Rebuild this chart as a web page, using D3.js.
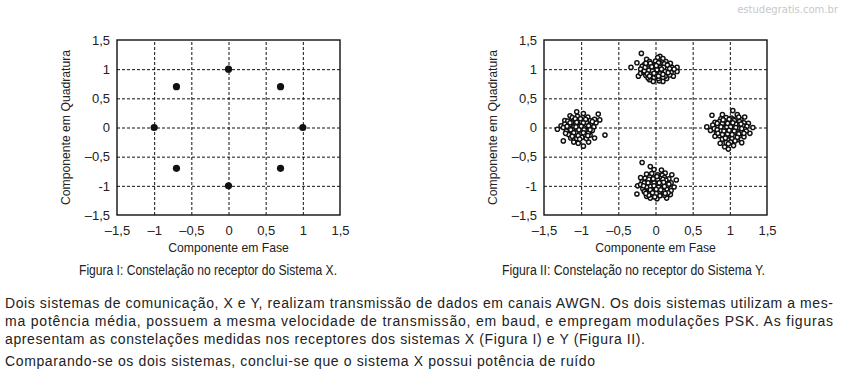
<!DOCTYPE html>
<html>
<head>
<meta charset="utf-8">
<script src="https://cdn.jsdelivr.net/npm/d3@7"></script>
<style>
  html, body { margin: 0; padding: 0; background: #fff; }
  svg { display: block; }
  .tick-label { font-family: "Liberation Sans", Arial, sans-serif; font-size: 13px; fill: #222; }
  .axis-title { font-family: "Liberation Sans", Arial, sans-serif; font-size: 12.2px; fill: #222; }
  .narrow { font-family: "Liberation Sans Narrow", "Arial Narrow", "Liberation Sans", Arial, sans-serif; fill: #222; }
  .body-text { font-family: "Liberation Sans", Arial, sans-serif; fill: #222; }
</style>
</head>
<body>
<svg id="chart" width="842" height="375"></svg>
<script>
// tick values and their printed labels (both axes share them)
const tickValues = [-1.5, -1, -0.5, 0, 0.5, 1, 1.5];
const xTickLabels = ["\u20131,5", "\u20131", "\u20130,5", "0", "0,5", "1", "1,5"];
const yTickLabels = ["\u20131,5", "-1", "\u20130,5", "0", "0,5", "1", "1,5"];
const gridValues = [-1, -0.5, 0, 0.5, 1];

// Figura I: sistema X (8-PSK, sem ruído aparente)
const systemX = [
  [0, 1], [0.7, 0.7], [1, 0], [0.7, -0.7],
  [0, -1], [-0.7, -0.7], [-1, 0], [-0.7, 0.7]
];

// Figura II: sistema Y (QPSK com ruído)
const systemYTop = [
  [-0.19, 1.27], [-0.33, 1.03], [-0.25, 1.11], [-0.23, 0.88], [0.29, 1.03], [0.29, 0.96],
  [0.10, 0.79], [-0.03, 0.79], [0.06, 1.22], [-0.12, 1.17], [0.03, 1.20], [0.10, 1.18],
  [0.20, 1.10], [0.24, 0.88], [-0.20, 0.93], [-0.15, 1.08], [0.15, 0.84], [-0.08, 0.82], [0.05, 0.80],
  [-0.08, 1.13], [0.00, 1.14], [0.08, 1.12], [0.14, 1.13],
  [-0.18, 1.05], [-0.10, 1.06], [-0.04, 1.07], [0.02, 1.08], [0.09, 1.06], [0.16, 1.04], [0.22, 1.03],
  [-0.20, 1.00], [-0.13, 0.99], [-0.06, 1.01], [0.00, 1.00], [0.05, 1.02], [0.11, 0.99], [0.18, 0.98], [0.25, 1.00],
  [-0.16, 0.95], [-0.09, 0.94], [-0.02, 0.96], [0.04, 0.94], [0.09, 0.95], [0.14, 0.93], [0.21, 0.94],
  [-0.13, 0.89], [-0.05, 0.90], [0.02, 0.88], [0.08, 0.90], [0.13, 0.88], [0.19, 0.90],
  [-0.10, 0.85], [-0.02, 0.86], [0.04, 0.84], [0.10, 0.86],
  [-0.03, 1.03], [0.03, 0.97], [0.07, 1.04], [-0.11, 1.02], [0.12, 1.09], [-0.06, 0.92],
  [0.00, 0.91], [0.06, 1.10], [0.15, 1.00], [-0.15, 0.97],
  [-0.07, 1.10], [0.04, 1.11], [0.11, 1.03], [-0.14, 1.03], [-0.01, 1.04], [0.02, 0.99],
  [0.08, 1.00], [-0.09, 0.98], [-0.04, 0.97], [0.13, 0.96], [0.06, 0.92], [-0.11, 0.92],
  [-0.02, 0.93], [0.10, 0.91], [0.17, 0.94], [0.01, 1.06], [-0.05, 1.04], [0.19, 1.01],
  [0.04, 0.88], [-0.08, 0.88], [0.16, 1.07], [-0.13, 1.10]
];
const systemYBottom = [
  [-0.18, -0.60], [-0.25, -1.14], [0.28, -0.90], [0.22, -0.81], [-0.07, -0.67], [0.08, -0.73],
  [-0.07, -1.21], [0.15, -1.21], [-0.20, -0.86], [-0.24, -1.00], [0.02, -1.22], [0.20, -1.15],
  [-0.12, -1.18], [0.25, -1.02], [-0.02, -0.72], [0.13, -0.78],
  [-0.12, -0.80], [-0.05, -0.79], [0.03, -0.81], [0.09, -0.82],
  [-0.14, -0.87], [-0.08, -0.85], [0.00, -0.86], [0.06, -0.87], [0.12, -0.86], [0.18, -0.88],
  [-0.18, -0.93], [-0.11, -0.92], [-0.04, -0.91], [0.02, -0.93], [0.08, -0.92], [0.15, -0.94], [0.21, -0.95],
  [-0.20, -0.98], [-0.13, -0.99], [-0.06, -0.97], [0.00, -0.98], [0.05, -1.00], [0.11, -0.98], [0.17, -1.00],
  [-0.17, -1.05], [-0.10, -1.04], [-0.03, -1.03], [0.03, -1.05], [0.09, -1.04], [0.15, -1.06], [0.21, -1.08],
  [-0.15, -1.10], [-0.08, -1.11], [-0.01, -1.09], [0.05, -1.11], [0.11, -1.10], [0.17, -1.12],
  [-0.09, -1.16], [-0.02, -1.15], [0.06, -1.17], [0.12, -1.16],
  [-0.02, -0.95], [0.04, -1.02], [-0.07, -1.01], [0.08, -0.96], [-0.05, -1.07], [0.01, -1.13],
  [0.14, -0.90], [-0.15, -0.95],
  [-0.09, -0.89], [0.03, -0.89], [0.10, -0.89], [-0.03, -0.88], [-0.10, -0.95], [0.05, -0.95],
  [0.12, -1.01], [-0.02, -1.00], [-0.12, -1.02], [0.07, -1.07], [-0.07, -1.07], [0.01, -1.06],
  [0.13, -1.13], [-0.04, -1.12], [-0.13, -1.13], [0.18, -0.97], [0.11, -0.94], [-0.16, -1.00],
  [0.02, -0.84], [-0.01, -1.19]
];
const systemYLeft = [
  [-1.32, -0.03], [-0.68, -0.13], [-0.77, 0.23], [-0.75, 0.13], [-1.06, 0.27], [-0.97, 0.24],
  [-0.97, -0.32], [-1.24, -0.23], [-1.04, -0.27], [-1.10, -0.25], [-1.22, 0.12], [-0.82, -0.18],
  [-0.80, 0.08], [-1.27, 0.03], [-0.90, -0.25], [-1.15, 0.20],
  [-1.12, 0.17], [-1.05, 0.19], [-0.98, 0.17], [-0.91, 0.18],
  [-1.18, 0.11], [-1.10, 0.12], [-1.03, 0.13], [-0.96, 0.11], [-0.88, 0.12], [-0.82, 0.14],
  [-1.22, 0.06], [-1.15, 0.05], [-1.08, 0.07], [-1.01, 0.06], [-0.94, 0.05], [-0.87, 0.06],
  [-1.24, 0.00], [-1.17, -0.01], [-1.10, 0.01], [-1.03, 0.00], [-0.96, -0.01], [-0.89, 0.00], [-0.83, 0.01],
  [-1.20, -0.06], [-1.13, -0.07], [-1.06, -0.05], [-0.99, -0.06], [-0.92, -0.07], [-0.85, -0.05],
  [-1.17, -0.12], [-1.09, -0.13], [-1.02, -0.11], [-0.95, -0.12], [-0.88, -0.13],
  [-1.14, -0.18], [-1.06, -0.19], [-0.99, -0.17], [-0.93, -0.19],
  [-1.05, 0.03], [-0.99, -0.03], [-1.13, 0.09], [-0.93, 0.09], [-1.07, -0.09], [-1.00, 0.10],
  [-1.12, -0.03], [-0.90, -0.09],
  [-1.08, 0.15], [-1.01, 0.15], [-0.94, 0.14], [-1.15, 0.08], [-1.06, 0.09], [-0.97, 0.08],
  [-0.90, 0.03], [-1.19, 0.02], [-1.07, 0.01], [-1.00, 0.02], [-1.14, -0.04], [-1.03, -0.04],
  [-0.96, -0.04], [-0.88, -0.04], [-1.10, -0.09], [-1.04, -0.14], [-0.97, -0.09], [-0.91, -0.14],
  [-1.12, -0.15], [-1.02, -0.20], [-0.85, 0.10], [-1.21, -0.10]
];
const systemYRight = [
  [0.69, 0.01], [0.76, 0.21], [1.31, 0.00], [1.04, 0.29], [0.98, -0.37], [0.87, -0.27],
  [1.16, -0.26], [1.25, 0.07], [1.20, 0.18], [0.80, -0.15], [1.10, 0.22], [0.90, 0.22],
  [1.27, -0.10], [0.74, -0.05], [1.05, -0.31], [0.93, -0.33],
  [0.88, 0.15], [0.95, 0.17], [1.02, 0.16], [1.09, 0.15], [1.15, 0.13],
  [0.80, 0.09], [0.86, 0.10], [0.93, 0.11], [1.00, 0.10], [1.07, 0.09], [1.13, 0.10], [1.19, 0.08],
  [0.77, 0.04], [0.84, 0.03], [0.91, 0.05], [0.98, 0.04], [1.04, 0.03], [1.11, 0.05], [1.18, 0.03], [1.23, 0.02],
  [0.79, -0.02], [0.86, -0.03], [0.93, -0.01], [1.00, -0.02], [1.06, -0.03], [1.13, -0.01], [1.20, -0.03],
  [0.82, -0.08], [0.89, -0.09], [0.96, -0.07], [1.03, -0.08], [1.09, -0.09], [1.16, -0.07], [1.22, -0.06],
  [0.86, -0.14], [0.93, -0.15], [1.00, -0.13], [1.06, -0.15], [1.13, -0.14], [1.19, -0.16],
  [0.90, -0.20], [0.97, -0.21], [1.03, -0.19], [1.10, -0.21],
  [0.95, -0.26], [1.01, -0.25],
  [0.96, 0.01], [1.02, -0.05], [0.90, 0.07], [1.08, 0.06], [0.97, -0.11], [1.04, 0.13],
  [0.88, -0.05], [1.12, -0.11], [1.00, 0.06],
  [0.91, 0.13], [0.99, 0.14], [1.06, 0.12], [0.83, 0.07], [0.97, 0.07], [1.04, 0.08],
  [1.15, 0.06], [0.88, 0.01], [1.01, 0.01], [1.08, 0.00], [1.16, -0.02], [0.83, -0.04],
  [0.92, -0.06], [0.99, -0.05], [1.06, -0.06], [1.19, -0.10], [0.90, -0.12], [1.03, -0.12],
  [1.10, -0.17], [0.94, -0.18], [1.07, -0.23], [0.98, -0.28], [1.12, 0.18], [0.84, -0.10]
];
const systemY = [...systemYTop, ...systemYLeft, ...systemYRight, ...systemYBottom];

const captions = [
  "Figura I: Constelação no receptor do Sistema X.",
  "Figura II: Constelação no receptor do Sistema Y."
];
const paragraphLines = [
  "Dois sistemas de comunicação, X e Y, realizam transmissão de dados em canais AWGN. Os dois sistemas utilizam a mes-",
  "ma potência média, possuem a mesma velocidade de transmissão, em baud, e empregam modulações PSK. As figuras",
  "apresentam as constelações medidas nos receptores dos sistemas X (Figura I) e Y (Figura II).",
  "Comparando-se os dois sistemas, conclui-se que o sistema X possui potência de ruído"
];

const svg = d3.select("#chart");
svg.append("rect").attr("width", 842).attr("height", 375).attr("fill", "#fff");

function drawPanel(left, points, filled) {
  const top = 40, width = 223, height = 175;
  const g = svg.append("g").attr("transform", `translate(${left},${top})`);

  const x = d3.scaleLinear().domain([-1.5, 1.5]).range([0, width]);
  const y = d3.scaleLinear().domain([-1.5, 1.5]).range([height, 0]);

  // dashed grid
  g.append("g")
    .attr("transform", `translate(0,${height})`)
    .call(d3.axisBottom(x).tickValues(gridValues).tickSize(-height).tickFormat(""))
    .call((s) => s.select(".domain").remove())
    .selectAll("line").attr("stroke", "#111").attr("stroke-dasharray", "3,2");
  g.append("g")
    .call(d3.axisLeft(y).tickValues(gridValues).tickSize(-width).tickFormat(""))
    .call((s) => s.select(".domain").remove())
    .selectAll("line").attr("stroke", "#111").attr("stroke-dasharray", "3,2");

  // tick labels
  g.append("g")
    .attr("transform", `translate(0,${height})`)
    .call(d3.axisBottom(x).tickValues(tickValues).tickSize(0).tickPadding(11)
      .tickFormat((d, i) => xTickLabels[i]))
    .call((s) => s.select(".domain").remove())
    .selectAll("text").attr("class", "tick-label").attr("font-family", null).attr("font-size", null);
  g.append("g")
    .call(d3.axisLeft(y).tickValues(tickValues).tickSize(0).tickPadding(7)
      .tickFormat((d, i) => yTickLabels[i]))
    .call((s) => s.select(".domain").remove())
    .selectAll("text").attr("class", "tick-label").attr("font-family", null).attr("font-size", null);

  // points
  g.selectAll(".pt")
    .data(points)
    .join("circle")
    .attr("class", "pt")
    .attr("cx", (d) => x(d[0]))
    .attr("cy", (d) => y(d[1]))
    .attr("r", filled ? 3.6 : 2.1)
    .attr("fill", filled ? "#111" : "#fff")
    .attr("stroke", "#111")
    .attr("stroke-width", filled ? 0 : 1.45);

  // frame
  g.append("rect")
    .attr("width", width).attr("height", height)
    .attr("fill", "none").attr("stroke", "#111").attr("stroke-width", 1.4);

  g.append("text")
    .attr("class", "axis-title")
    .attr("x", width / 2).attr("y", height + 37)
    .attr("text-anchor", "middle")
    .text("Componente em Fase");

  g.append("text")
    .attr("class", "axis-title")
    .attr("transform", `translate(${-47},${height / 2}) rotate(-90)`)
    .attr("text-anchor", "middle")
    .text("Componente em Quadratura");
}

drawPanel(117, systemX, true);
drawPanel(544, systemY, false);

// captions
const captionPos = [[79, 258], [502, 263]];
captions.forEach((c, i) => {
  svg.append("text")
    .attr("class", "narrow")
    .attr("x", captionPos[i][0]).attr("y", 275)
    .attr("font-size", 14)
    .attr("textLength", captionPos[i][1])
    .attr("lengthAdjust", "spacingAndGlyphs")
    .text(c);
});

// paragraph
const lineBaselines = [308, 326, 343.5, 366];
const lineWidths = [828, 828, 640, 590];
paragraphLines.forEach((line, i) => {
  svg.append("text")
    .attr("class", "body-text")
    .attr("x", 5).attr("y", lineBaselines[i])
    .attr("font-size", 14)
    .attr("textLength", lineWidths[i])
    .attr("lengthAdjust", "spacing")
    .text(line);
});

// watermark
svg.append("text")
  .attr("x", 838).attr("y", 13)
  .attr("text-anchor", "end")
  .attr("font-family", "DejaVu Sans, sans-serif")
  .attr("font-size", 10)
  .attr("fill", "#c8c8c8")
  .text("estudegratis.com.br");
</script>
</body>
</html>
